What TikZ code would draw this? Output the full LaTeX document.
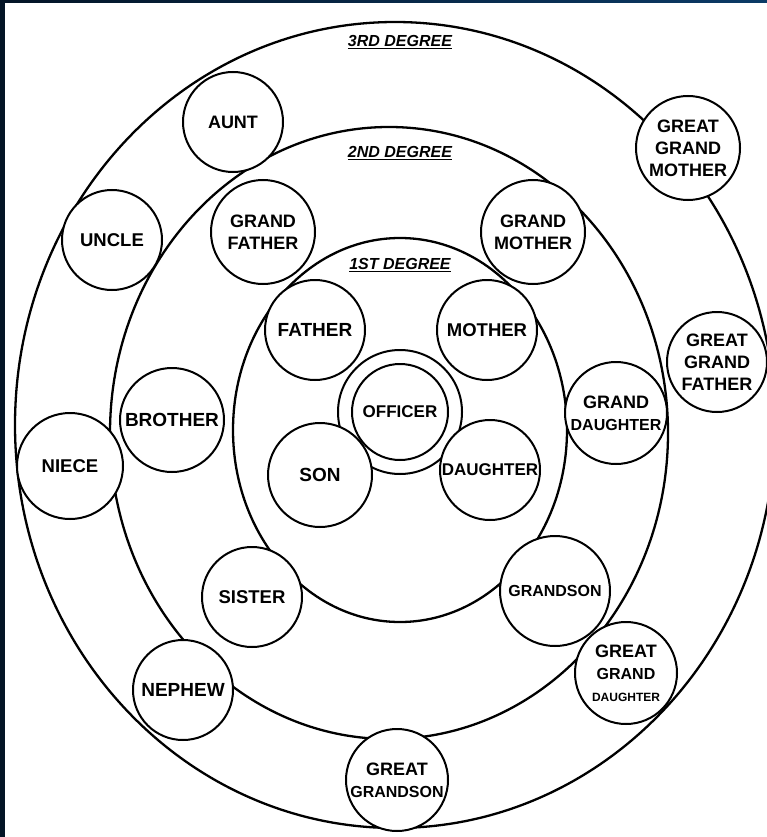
\documentclass[tikz,border=0pt]{standalone}
\usepackage{fontspec}
\setmainfont{Liberation Sans}
\definecolor{frameA}{HTML}{031426}
\definecolor{frameB}{HTML}{0B3A66}
\newcommand{\fs}[1]{\fontsize{#1}{22}\selectfont}
\begin{document}
\begin{tikzpicture}[x=1pt,y=-1pt,
  ring/.style={line width=2.3pt},
  person/.style={circle,draw,line width=2pt,fill=white,minimum size=#1,inner sep=0pt,align=center,
    font=\fontsize{18}{22}\selectfont\bfseries},
  person/.default=102pt,
  deg/.style={font=\fontsize{16}{18}\selectfont\bfseries\itshape}]
\useasboundingbox (0,0) rectangle (767,837);
\fill[frameA] (0,0) rectangle (767,837);
\shade[left color=frameA,right color=frameB] (0,0) rectangle (767,3);
\fill[white] (5,3) rectangle (767,837);
\clip (5,3) rectangle (767,837);
% degree rings
\draw[ring] (395,425) ellipse [x radius=380pt, y radius=403pt];
\draw[ring] (389,433) ellipse [x radius=279pt, y radius=306pt];
\draw[ring] (400,430) ellipse [x radius=167pt, y radius=192pt];
% labels
\node[deg] (l3) at (400,42) {\underline{3RD DEGREE}};
\node[deg] (l2) at (400,153) {\underline{2ND DEGREE}};
\node[deg] (l1) at (400,265) {\underline{1ST DEGREE}};
% officer
\node[circle,draw,line width=2pt,fill=white,minimum size=124pt] (ring0) at (400,412) {};
\node[person=96pt] (officer) at (400,412) {\fs{17}OFFICER};
% first degree
\node[person=100pt] (father) at (315,330) {\fs{19}FATHER};
\node[person=100pt] (mother) at (487,330) {\fs{18.5}MOTHER};
\node[person=104pt] (son) at (320,475) {\fs{19}SON};
\node[person=100pt] (daughter) at (490,470) {\fs{17}DAUGHTER};
% second degree
\node[person=104pt] (gf) at (263,232) {GRAND\\FATHER};
\node[person=104pt] (gm) at (533,232) {GRAND\\MOTHER};
\node[person=104pt] (brother) at (172,420) {\fs{19}BROTHER};
\node[person=102pt] (gd) at (616,413) {GRAND\\{\fs{16}DAUGHTER}};
\node[person=100pt] (sister) at (252,597) {\fs{18.5}SISTER};
\node[person=110pt] (grandson) at (555,591) {\fs{16}GRANDSON};
% third degree
\node[person=100pt] (aunt) at (233,122) {AUNT};
\node[person=104pt] (ggm) at (688,148) {GREAT\\GRAND\\MOTHER};
\node[person=100pt] (uncle) at (112,240) {\fs{18.5}UNCLE};
\node[person=100pt] (ggf) at (717,362) {GREAT\\GRAND\\FATHER};
\node[person=106pt] (niece) at (70,466) {\fs{18.5}NIECE};
\node[person=102pt] (ggd) at (626,673) {GREAT\\{\fs{16}GRAND}\\{\fontsize{12}{14}\selectfont DAUGHTER}};
\node[person=100pt] (nephew) at (183,690) {\fs{19}NEPHEW};
\node[person=102pt] (ggs) at (397,780) {GREAT\\{\fs{16}GRANDSON}};
\end{tikzpicture}
\end{document}
